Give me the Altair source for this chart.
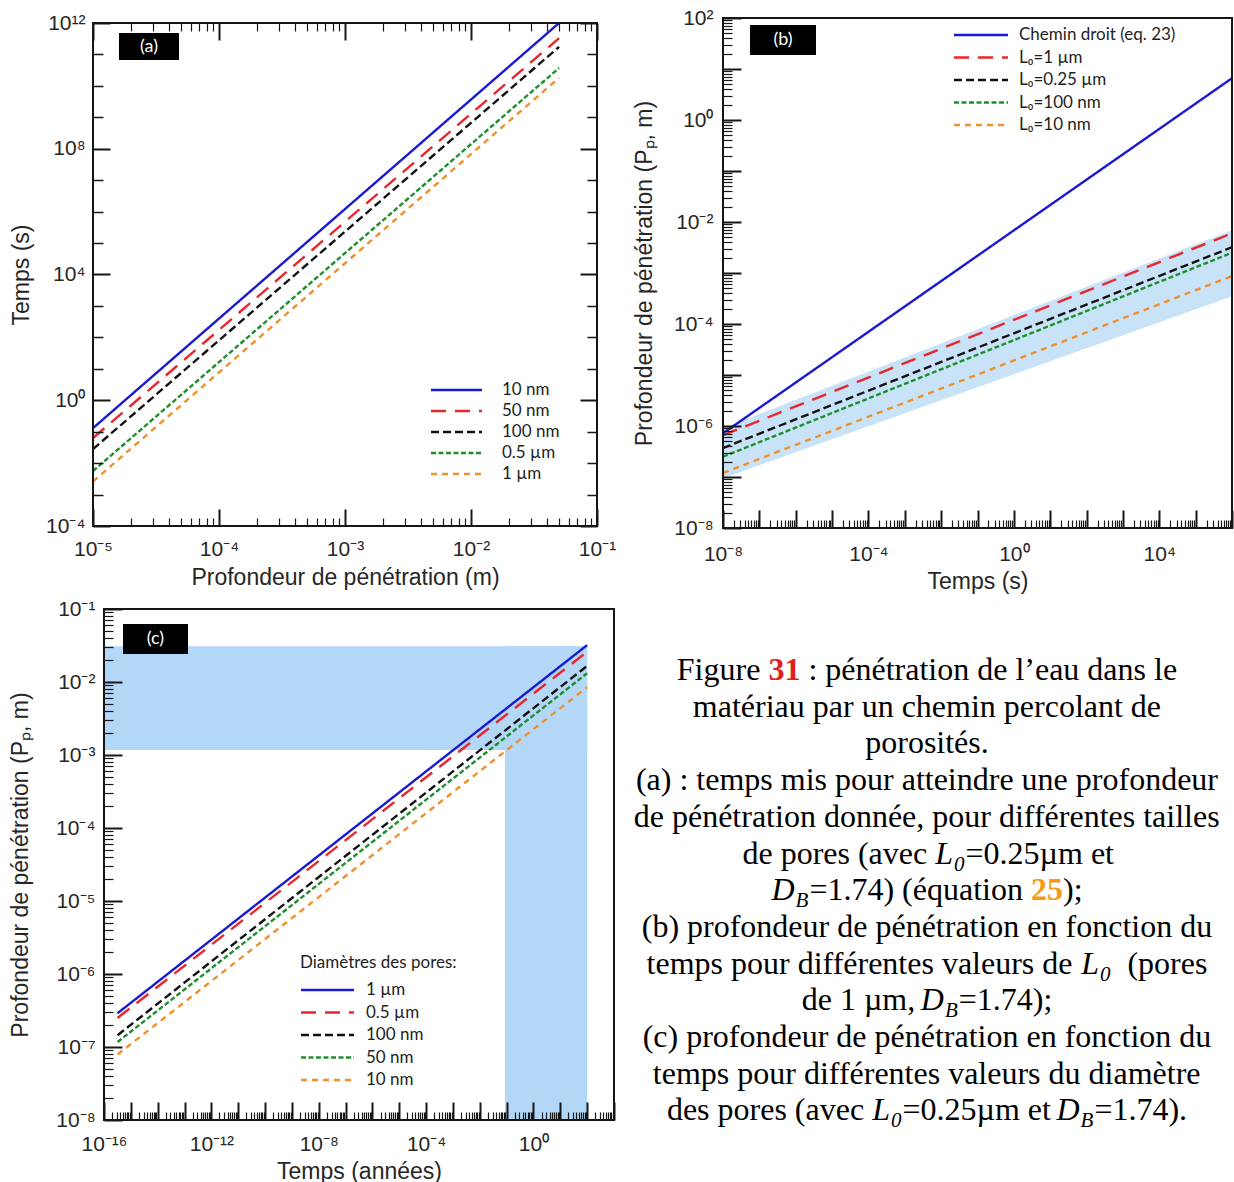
import altair as alt
import pandas as pd

# ---------------- data ----------------
# (a) time (s) to reach a penetration depth (m), per pore diameter
a_series = ["10 nm", "50 nm", "100 nm", "0.5 µm", "1 µm"]
a_depth = [1e-5, 5e-2]
a_time_start = [0.13, 0.063, 0.028, 0.0056, 0.0026]
a_time_end = [1.0e12, 3.3e11, 1.74e11, 3.7e10, 1.8e10]

# (b) penetration depth (m) vs time (s), per L0
b_series = ["Chemin droit (eq. 23)", "L₀=1 µm", "L₀=0.25 µm", "L₀=100 nm", "L₀=10 nm"]
b_time = [1e-8, 1e6]
b_depth_start = [7.2e-7, 6.6e-7, 3.7e-7, 2.5e-7, 1.2e-7]
b_depth_end = [6.6, 6.0e-3, 3.2e-3, 2.5e-3, 8.7e-4]
b_band_upper = [9.1e-7, 6.9e-3]
b_band_lower = [9.5e-8, 3.5e-4]

# (c) penetration depth (m) vs time (years), per pore diameter
c_series = ["1 µm", "0.5 µm", "100 nm", "50 nm", "10 nm"]
c_time = [3.2e-16, 100]
c_depth_start = [2.9e-7, 2.5e-7, 1.45e-7, 1.17e-7, 7.9e-8]
c_depth_end = [0.032, 0.026, 0.0166, 0.0132, 0.0085]
c_band_x1 = [1e-16, 0.087]
c_band_x2 = [100, 100]
c_band_y1 = [1.17e-3, 1e-8]
c_band_y2 = [0.031, 0.031]

# axis domains (decade exponents) and tick label exponents
a_x_dom, a_y_dom = (-5, -1), (-4, 12)
b_x_dom, b_y_dom = (-8, 6), (-8, 2)
c_x_dom, c_y_dom = (-16, 3), (-8, -1)
a_x_labels = [-5, -4, -3, -2, -1]
a_y_labels = [-4, 0, 4, 8, 12]
b_x_labels = [-8, -4, 0, 4]
b_y_labels = [-8, -6, -4, -2, 0, 2]
c_x_labels = [-16, -12, -8, -4, 0]
c_y_labels = [-8, -7, -6, -5, -4, -3, -2, -1]

caption_lines = [
    [("Figure ", "r"), ("31", "red"), (" : pénétration de l’eau dans le", "r")],
    [("matériau par un chemin percolant de", "r")],
    [("porosités.", "r")],
    [("(a) : temps mis pour atteindre une profondeur", "r")],
    [("de pénétration donnée, pour différentes tailles", "r")],
    [("de pores (avec ", "r"), ("L", "i"), ("0", "sub"), ("=0.25µm et", "r")],
    [("D", "i"), ("B", "sub"), ("=1.74) (équation ", "r"), ("25", "org"), (");", "r")],
    [("(b) profondeur de pénétration en fonction du", "r")],
    [("temps pour différentes valeurs de ", "r"), ("L", "i"), ("0", "sub"), ("  (pores", "r")],
    [("de 1 µm, ", "r"), ("D", "i"), ("B", "sub"), ("=1.74);", "r")],
    [("(c) profondeur de pénétration en fonction du", "r")],
    [("temps pour différentes valeurs du diamètre", "r")],
    [("des pores (avec ", "r"), ("L", "i"), ("0", "sub"), ("=0.25µm et ", "r"),
     ("D", "i"), ("B", "sub"), ("=1.74).", "r")],
]

# ---------------- layout & styles ----------------
TW, TH = 1234, 1182
BOX_A = dict(l=93, r=597, t=23, b=526)
BOX_B = dict(l=723, r=1232, t=18, b=528)
BOX_C = dict(l=104, r=614, t=609, b=1120)

COLORS = ["#1a1ad2", "#e8262b", "#111111", "#1f8f2e", "#f0902c"]
DASHES = [[1, 0], [15, 9], [8, 4], [5, 2.5], [6, 5]]
BAND_B = "#c8e3f7"
BAND_C = "#b3d7f7"
SANS = "Liberation Sans, Arial, sans-serif"
SERIF = "Liberation Serif, Times New Roman, serif"
LEG = "Lato, Open Sans, sans-serif"
INK = "#262626"
TICK = "#161616"
SUP = str.maketrans("-0123456789", "⁻⁰¹²³⁴⁵⁶⁷⁸⁹")


def pw(e):
    return float("1e%d" % e)


def decades(e0, e1):
    return [pw(e) for e in range(e0, e1 + 1)]


def minors(e0, e1):
    return [m * pw(e) for e in range(e0, e1) for m in range(2, 10)]


def lab_expr(exps):
    lo, hi = min(exps), max(exps)
    items = ["'" + ("10" + str(e).translate(SUP) if e in exps else "") + "'" for e in range(lo, hi + 1)]
    return "[" + ",".join(items) + "][round(log(datum.value)/LN10) - (%d)]" % lo


def lab_axis(orient, offset, exps, title, lpad, tpad):
    return alt.Axis(orient=orient, offset=offset, values=[pw(e) for e in exps], labelExpr=lab_expr(exps),
                    ticks=False, domain=False, grid=False, labelFlush=False, labelOverlap=False,
                    labelFont=SANS, labelFontSize=21, labelColor=INK, labelPadding=lpad,
                    title=title, titleFont=SANS, titleFontSize=23, titleFontWeight="normal",
                    titleColor=INK, titlePadding=tpad)


def tick_axis(orient, offset, values, size, width):
    return alt.Axis(orient=orient, offset=offset, values=values, labels=False, domain=False,
                    grid=False, ticks=True, tickSize=size, tickWidth=width, tickColor=TICK,
                    title=None, zindex=1)


# inward tick axes on each edge of a box (orient/offset place them on the box edge)
def edge_bottom(box, values, size, width):
    return tick_axis("top", -box["b"], values, size, width)


def edge_top(box, values, size, width):
    return tick_axis("bottom", box["t"] - TH, values, size, width)


def edge_left(box, values, size, width):
    return tick_axis("right", box["l"] - TW, values, size, width)


def edge_right(box, values, size, width):
    return tick_axis("left", -box["r"], values, size, width)


def scales(box, xdom, ydom):
    xs = alt.Scale(type="log", domain=[pw(xdom[0]), pw(xdom[1])], range=[box["l"], box["r"]], nice=False)
    ys = alt.Scale(type="log", domain=[pw(ydom[0]), pw(ydom[1])], range=[box["b"], box["t"]], nice=False)
    return xs, ys


def ghost(xs, ys, xdom, ydom, xax, yax):
    return alt.Chart(pd.DataFrame({"gx": [pw(xdom[0])], "gy": [pw(ydom[0])]})).mark_point(opacity=0).encode(
        x=alt.X("gx:Q", scale=xs, axis=xax), y=alt.Y("gy:Q", scale=ys, axis=yax))


def frame(xs, ys, xdom, ydom):
    d = pd.DataFrame({"fx": [pw(xdom[0])], "fx2": [pw(xdom[1])], "fy": [pw(ydom[0])], "fy2": [pw(ydom[1])]})
    return alt.Chart(d).mark_rect(fillOpacity=0, stroke=TICK, strokeWidth=2).encode(
        x=alt.X("fx:Q", scale=xs, axis=None), x2="fx2:Q",
        y=alt.Y("fy:Q", scale=ys, axis=None), y2="fy2:Q")


def line_df(series, xpair, starts, ends):
    return pd.DataFrame({"s": [s for s in series for _ in xpair],
                         "x": [x for _ in series for x in xpair],
                         "y": [v for a, b in zip(starts, ends) for v in (a, b)]})


def enc(series):
    color = alt.Color("s:N", scale=alt.Scale(domain=series, range=COLORS), legend=None)
    dash = alt.StrokeDash("s:N", scale=alt.Scale(domain=series, range=DASHES), legend=None)
    return color, dash


def legend(series, color, dash, xs1, xs2, xt, y0, dy):
    d = pd.DataFrame({"s": series, "yp": [y0 + i * dy for i in range(len(series))]})
    r = alt.Chart(d).mark_rule(strokeWidth=2.4).encode(
        x=alt.value(xs1), x2=alt.value(xs2), y=alt.Y("yp:Q", scale=None, axis=None),
        color=color, strokeDash=dash)
    t = alt.Chart(d).mark_text(align="left", baseline="middle", font=LEG, fontSize=17,
                               color="#1e1e1e").encode(
        x=alt.value(xt), y=alt.Y("yp:Q", scale=None, axis=None), text="s:N")
    return [r, t]


def tag(label, x1, x2, y1, y2):
    d = pd.DataFrame({"t": [label]})
    rect = alt.Chart(d).mark_rect(color="black").encode(
        x=alt.value(x1), x2=alt.value(x2), y=alt.value(y1), y2=alt.value(y2))
    txt = alt.Chart(d).mark_text(color="white", font=LEG, fontSize=18, align="center",
                                 baseline="middle").encode(
        x=alt.value((x1 + x2) / 2), y=alt.value((y1 + y2) / 2), text="t:N")
    return [rect, txt]


# ---------------- panel (a) ----------------
xa, ya = scales(BOX_A, a_x_dom, a_y_dom)
ca, da = enc(a_series)
lines_a = alt.Chart(line_df(a_series, a_depth, a_time_start, a_time_end)).mark_line(strokeWidth=2.4).encode(
    x=alt.X("x:Q", scale=xa, axis=lab_axis("bottom", BOX_A["b"] - TH, a_x_labels,
                                           "Profondeur de pénétration (m)", 12, 7)),
    y=alt.Y("y:Q", scale=ya, axis=lab_axis("left", -BOX_A["l"], a_y_labels, "Temps (s)", 8, 12)),
    color=ca, strokeDash=da)
ax_major, ax_minor = decades(*a_x_dom), minors(*a_x_dom)
ay_long = [pw(e) for e in a_y_labels]
ay_short = [pw(e) for e in range(a_y_dom[0], a_y_dom[1] + 1) if e not in a_y_labels]
ghosts_a = [
    ghost(xa, ya, a_x_dom, a_y_dom, edge_bottom(BOX_A, ax_major, 17, 2), edge_left(BOX_A, ay_long, 17, 2)),
    ghost(xa, ya, a_x_dom, a_y_dom, edge_bottom(BOX_A, ax_minor, 8, 1.2), edge_left(BOX_A, ay_short, 10, 1.5)),
    ghost(xa, ya, a_x_dom, a_y_dom, edge_top(BOX_A, ax_major, 17, 2), edge_right(BOX_A, ay_long, 17, 2)),
    ghost(xa, ya, a_x_dom, a_y_dom, edge_top(BOX_A, ax_minor, 8, 1.2), edge_right(BOX_A, ay_short, 10, 1.5)),
]
panel_a = alt.layer(
    lines_a, *ghosts_a, frame(xa, ya, a_x_dom, a_y_dom),
    *legend(a_series, ca, da, 431, 482, 502, 390, 21),
    *tag("(a)", 119, 179, 33, 60),
).resolve_axis(x="independent", y="independent")

# ---------------- panel (b) ----------------
xb, yb = scales(BOX_B, b_x_dom, b_y_dom)
cb, db = enc(b_series)
band_b = alt.Chart(pd.DataFrame({"x": b_time, "hi": b_band_upper, "lo": b_band_lower})).mark_area(
    color=BAND_B).encode(x=alt.X("x:Q", scale=xb, axis=None), y=alt.Y("hi:Q", scale=yb, axis=None), y2="lo:Q")
lines_b = alt.Chart(line_df(b_series, b_time, b_depth_start, b_depth_end)).mark_line(strokeWidth=2.4).encode(
    x=alt.X("x:Q", scale=xb, axis=lab_axis("bottom", BOX_B["b"] - TH, b_x_labels, "Temps (s)", 15, 6)),
    y=alt.Y("y:Q", scale=yb, axis=lab_axis("left", -BOX_B["l"], b_y_labels,
                                           "Profondeur de pénétration (Pₚ, m)", 10, 17)),
    color=cb, strokeDash=db)
ghosts_b = [
    ghost(xb, yb, b_x_dom, b_y_dom, edge_bottom(BOX_B, decades(*b_x_dom), 18, 2),
          edge_left(BOX_B, decades(*b_y_dom), 18, 2)),
    ghost(xb, yb, b_x_dom, b_y_dom, edge_bottom(BOX_B, minors(*b_x_dom), 8, 1.2),
          edge_left(BOX_B, minors(*b_y_dom), 9, 1.2)),
]
panel_b = alt.layer(
    band_b, lines_b, *ghosts_b, frame(xb, yb, b_x_dom, b_y_dom),
    *legend(b_series, cb, db, 954, 1008, 1019, 35, 22.5),
    *tag("(b)", 750, 816, 25, 55),
).resolve_axis(x="independent", y="independent")

# ---------------- panel (c) ----------------
xc, yc = scales(BOX_C, c_x_dom, c_y_dom)
cc, dc = enc(c_series)
rect_c = alt.Chart(pd.DataFrame({"x1": c_band_x1, "x2": c_band_x2, "y1": c_band_y1, "y2": c_band_y2})).mark_rect(
    color=BAND_C).encode(x=alt.X("x1:Q", scale=xc, axis=None), x2="x2:Q",
                         y=alt.Y("y1:Q", scale=yc, axis=None), y2="y2:Q")
lines_c = alt.Chart(line_df(c_series, c_time, c_depth_start, c_depth_end)).mark_line(strokeWidth=2.4).encode(
    x=alt.X("x:Q", scale=xc, axis=lab_axis("bottom", BOX_C["b"] - TH, c_x_labels, "Temps (années)", 13, 6)),
    y=alt.Y("y:Q", scale=yc, axis=lab_axis("left", -BOX_C["l"], c_y_labels,
                                           "Profondeur de pénétration (Pₚ, m)", 9, 23)),
    color=cc, strokeDash=dc)
ghosts_c = [
    ghost(xc, yc, c_x_dom, c_y_dom, edge_bottom(BOX_C, decades(*c_x_dom), 18, 2),
          edge_left(BOX_C, decades(*c_y_dom), 18, 2)),
    ghost(xc, yc, c_x_dom, c_y_dom, edge_bottom(BOX_C, minors(*c_x_dom), 8, 1.2),
          edge_left(BOX_C, minors(*c_y_dom), 9, 1.2)),
]
leg_title_c = alt.Chart(pd.DataFrame({"t": ["Diamètres des pores:"]})).mark_text(
    align="left", baseline="middle", font=LEG, fontSize=17, color="#1e1e1e").encode(
    x=alt.value(300), y=alt.value(963), text="t:N")
panel_c = alt.layer(
    rect_c, lines_c, *ghosts_c, frame(xc, yc, c_x_dom, c_y_dom), leg_title_c,
    *legend(c_series, cc, dc, 301, 354, 366, 990, 22.5),
    *tag("(c)", 123, 188, 624, 654),
).resolve_axis(x="independent", y="independent")

# ---------------- caption ----------------
TIMES_W = {" ": 250, "(": 333, ")": 333, ",": 250, ".": 250, ":": 278, ";": 278, "=": 564, "’": 333,
           "µ": 500, "a": 444, "b": 500, "c": 444, "d": 500, "e": 444, "f": 333, "g": 500, "h": 500,
           "i": 278, "l": 278, "m": 778, "n": 500, "o": 500, "p": 500, "q": 500, "r": 333, "s": 389,
           "t": 278, "u": 500, "v": 500, "x": 500, "y": 500, "é": 444, "è": 444, "F": 556, "L": 611,
           "D": 722, "B": 667}
ITAL_W = {"L": 556, "D": 722, "B": 611}
ITAL_GAP = 1  # a little room after an italic letter (slant overhang)


def seg_width(text, style):
    size = 21 if style == "sub" else 32
    table = ITAL_W if style in ("i", "sub") else {}
    w = sum(table.get(ch, TIMES_W.get(ch, 500)) for ch in text) * size / 1000.0
    return w + (ITAL_GAP if style in ("i", "sub") else 0)


CX, CY0, CDY = 927, 680, 36.7
rows = []
for i, line in enumerate(caption_lines):
    total = sum(seg_width(t, s) for t, s in line)
    x = CX - total / 2
    for t, s in line:
        lead = len(t) - len(t.lstrip(" "))
        txt = t.strip(" ")
        if txt:
            rows.append({"t": txt, "x": x + lead * 8.0,
                         "y": CY0 + i * CDY + (7 if s == "sub" else 0), "s": s})
        x += seg_width(t, s)
cap_df = pd.DataFrame(rows)


def cap_layer(style, **kw):
    d = cap_df[cap_df.s == style]
    return alt.Chart(d).mark_text(align="left", baseline="alphabetic", font=SERIF, **kw).encode(
        x=alt.X("x:Q", scale=None, axis=None), y=alt.Y("y:Q", scale=None, axis=None), text="t:N")


caption = alt.layer(
    cap_layer("r", fontSize=32, color="black"),
    cap_layer("red", fontSize=32, fontWeight="bold", color="#e0211b"),
    cap_layer("org", fontSize=32, fontWeight="bold", color="#f59a16"),
    cap_layer("i", fontSize=32, fontStyle="italic", color="black"),
    cap_layer("sub", fontSize=21, fontStyle="italic", color="black"),
)

chart = alt.layer(panel_a, panel_b, panel_c, caption).resolve_scale(
    x="independent", y="independent", color="independent", strokeDash="independent"
).resolve_axis(
    x="independent", y="independent"
).properties(
    width=TW, height=TH, padding=0, autosize=alt.AutoSizeParams(type="none")
).configure_view(stroke="transparent")

chart.save("out.html", embed_options={"renderer": "svg", "actions": False})
